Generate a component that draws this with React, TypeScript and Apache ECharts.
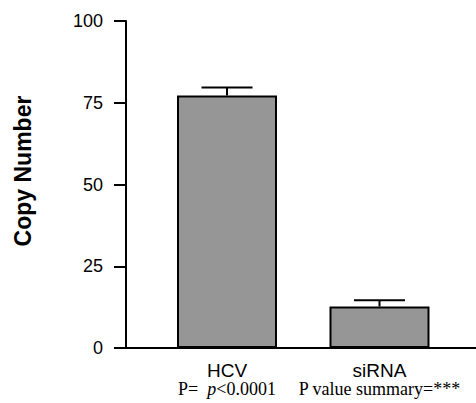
import React, { useEffect, useRef } from "react";
import * as echarts from "echarts";

const categories = ["HCV", "siRNA"];
const positions = [1, 2];
const means = [77.2, 12.7];
const errors = [2.5, 1.9];
const notePre = ["P=  ", "P value summary=***"];
const noteItalic = ["p", ""];
const notePost = ["<0.0001", ""];
const yTicks = [0, 25, 50, 75, 100];

export default function App() {
  const ref = useRef<HTMLDivElement>(null);
  useEffect(() => {
    if (!ref.current) return;
    const chart = echarts.init(ref.current, null, { renderer: "svg" });
    const barData = positions.map((p, i) => [p, means[i]]);
    const errData = positions.map((p, i) => [p, means[i], means[i] + errors[i]]);
    chart.setOption({
      animation: false,
      backgroundColor: "#ffffff",
      grid: { left: 126, right: 0, top: 21, bottom: 55, containLabel: false },
      xAxis: {
        type: "value",
        min: 0.3377,
        max: 2.6328,
        splitLine: { show: false },
        axisTick: { show: false },
        axisLine: { show: true, onZero: false, lineStyle: { color: "#000", width: 2 } },
        axisLabel: {
          show: true,
          customValues: positions,
          margin: 12,
          color: "#000",
          formatter: (v: number) => {
            const i = positions.indexOf(Math.round(v));
            if (i < 0) return "";
            let line2 = "{b|" + notePre[i] + "}";
            if (noteItalic[i]) line2 += "{i|" + noteItalic[i] + "}";
            if (notePost[i]) line2 += "{b|" + notePost[i] + "}";
            return "{a|" + categories[i] + "}\n" + line2;
          },
          rich: {
            a: { fontFamily: "Liberation Sans, Arial, sans-serif", fontSize: 19, lineHeight: 20, color: "#000" },
            b: { fontFamily: "Liberation Serif, Times New Roman, serif", fontSize: 18, lineHeight: 18, color: "#000" },
            i: { fontFamily: "Liberation Serif, Times New Roman, serif", fontStyle: "italic", fontSize: 18, lineHeight: 18, color: "#000" },
          },
        },
      },
      yAxis: {
        type: "value",
        min: 0,
        max: 100,
        interval: 25,
        splitLine: { show: false },
        axisLine: { show: true, lineStyle: { color: "#000", width: 2 } },
        axisTick: { show: true, length: 12, inside: false, lineStyle: { color: "#000", width: 2 } },
        axisLabel: {
          margin: 23,
          color: "#000",
          fontFamily: "Liberation Sans, Arial, sans-serif",
          fontSize: 18,
          formatter: (v: number) => (yTicks.indexOf(v) >= 0 ? String(v) : ""),
        },
      },
      graphic: [
        {
          type: "text",
          x: 23,
          y: 171,
          rotation: Math.PI / 2,
          style: {
            text: "Copy Number",
            align: "center",
            verticalAlign: "middle",
            font: "bold 23px 'Liberation Sans', Arial, sans-serif",
            fill: "#000",
          },
        },
      ],
      series: [
        {
          type: "bar",
          data: barData,
          barWidth: 100,
          itemStyle: { color: "#969696", borderColor: "#000", borderWidth: 2 },
          z: 2,
        },
        {
          type: "custom",
          data: errData,
          z: 1,
          renderItem: (params: any, api: any) => {
            const x = api.value(0);
            const base = api.coord([x, api.value(1)]);
            const top = api.coord([x, api.value(2)]);
            const half = 25.5;
            return {
              type: "group",
              children: [
                {
                  type: "line",
                  shape: { x1: base[0], y1: base[1], x2: top[0], y2: top[1] },
                  style: { stroke: "#000", lineWidth: 2 },
                },
                {
                  type: "line",
                  shape: { x1: top[0] - half, y1: top[1], x2: top[0] + half, y2: top[1] },
                  style: { stroke: "#000", lineWidth: 2 },
                },
              ],
            };
          },
        },
      ],
    });
    return () => chart.dispose();
  }, []);
  return <div ref={ref} style={{ position: "fixed", left: 0, top: 0, width: 476, height: 403 }} />;
}
